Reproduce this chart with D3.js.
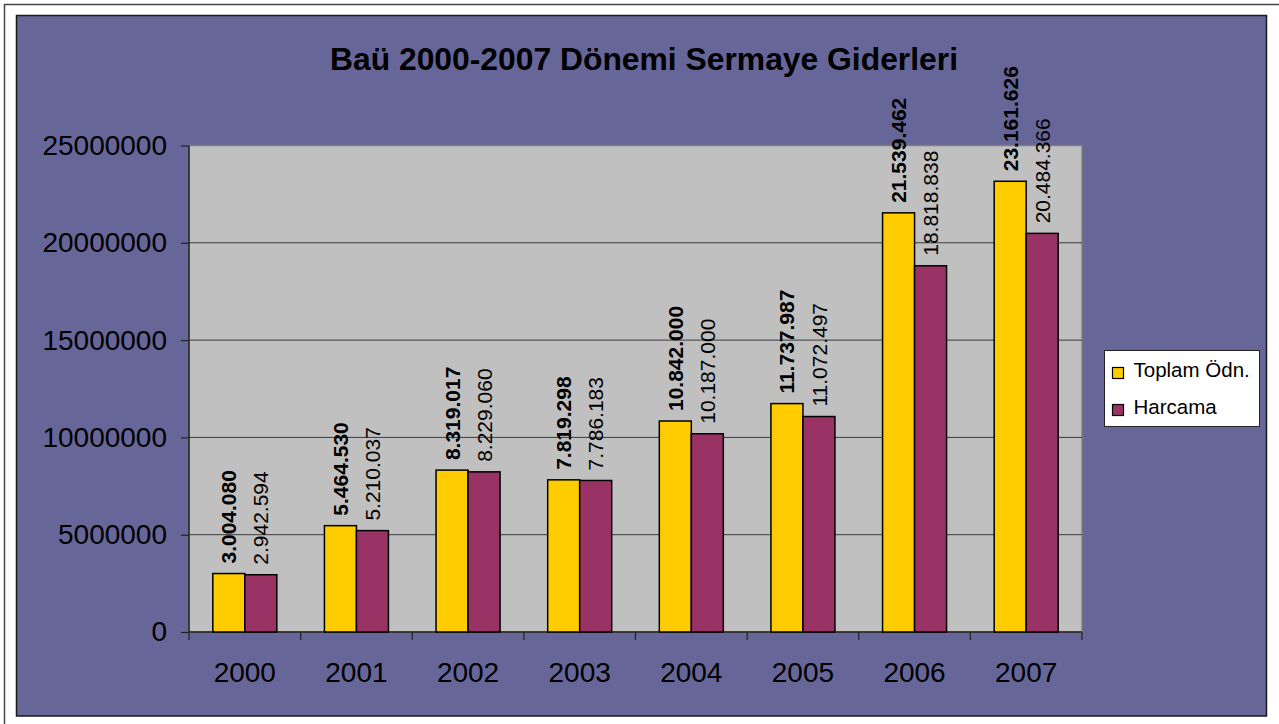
<!DOCTYPE html>
<html>
<head>
<meta charset="utf-8">
<script src="https://cdn.jsdelivr.net/npm/d3@7"></script>
<style>
  body { margin: 0; background: #fff; }
  text { font-family: "Liberation Sans", Arial, sans-serif; }
</style>
</head>
<body>
<div id="chart"></div>
<script>
	var categories = ["2000", "2001", "2002", "2003", "2004", "2005", "2006", "2007"];
	var seriesNames = ["Toplam Ödn.", "Harcama"];
	var toplam = [3004080, 5464530, 8319017, 7819298, 10842000, 11737987, 21539462, 23161626];
	var harcama = [2942594, 5210037, 8229060, 7786183, 10187000, 11072497, 18818838, 20484366];
	var yTicks = [0, 5000000, 10000000, 15000000, 20000000, 25000000];
	var colors = ["#FFCC00", "#993366"];

	var width = 1279, height = 724;
	var plot = { left: 189, top: 145.5, right: 1082, bottom: 632 };

	var svg = d3.select("#chart").append("svg")
		.attr("width", width).attr("height", height);

	// outer frame (only top and left are visible)
	svg.append("rect")
		.attr("x", 4.5).attr("y", 4.5)
		.attr("width", width + 20).attr("height", height + 20)
		.attr("fill", "#fff").attr("stroke", "#444").attr("stroke-width", 1.5);

	// purple chart area
	svg.append("rect")
		.attr("x", 16.5).attr("y", 15.5)
		.attr("width", 1250).attr("height", 700.5)
		.attr("fill", "#666699").attr("stroke", "#1a1a1a").attr("stroke-width", 1.5);

	var x = d3.scaleBand().domain(categories).range([plot.left, plot.right]);
	var x1 = d3.scaleBand().domain(seriesNames).range([0, x.bandwidth()])
		.paddingInner(0).paddingOuter(0.744);
	var y = d3.scaleLinear().domain([0, 25000000]).range([plot.bottom, plot.top]);

	// plot area
	svg.append("rect")
		.attr("x", plot.left).attr("y", plot.top)
		.attr("width", plot.right - plot.left).attr("height", plot.bottom - plot.top)
		.attr("fill", "#C0C0C0").attr("stroke", "#808080").attr("stroke-width", 1.5);

	// gridlines
	svg.append("g").selectAll("line").data(yTicks.filter(d => d > 0 && d < 25000000))
		.join("line")
		.attr("x1", plot.left).attr("x2", plot.right)
		.attr("y1", d => y(d)).attr("y2", d => y(d))
		.attr("stroke", "#3a3a3a").attr("stroke-width", 1);

	// y axis
	var yAxis = svg.append("g")
		.attr("transform", `translate(${plot.left},0)`)
		.call(d3.axisLeft(y).tickValues(yTicks).tickFormat(d3.format("d")).tickSize(8).tickPadding(14));
	yAxis.select(".domain").attr("stroke", "#222").attr("stroke-width", 1.5).attr("d", `M0,${plot.top}V${plot.bottom}`);
	yAxis.selectAll(".tick line").attr("stroke", "#222").attr("stroke-width", 1.2);
	yAxis.selectAll(".tick text")
		.attr("font-size", 28).attr("fill", "#000")
		.style("font-family", "'Liberation Sans', Arial, sans-serif");

	// x axis
	var xAxis = svg.append("g").attr("transform", `translate(0,${plot.bottom})`);
	xAxis.append("line")
		.attr("x1", plot.left).attr("x2", plot.right)
		.attr("stroke", "#222").attr("stroke-width", 1.5);
	xAxis.selectAll(".tk").data(d3.range(categories.length + 1))
		.join("line").attr("class", "tk")
		.attr("x1", i => plot.left + i * x.step()).attr("x2", i => plot.left + i * x.step())
		.attr("y1", 0).attr("y2", 8)
		.attr("stroke", "#222").attr("stroke-width", 1.2);
	xAxis.selectAll(".lbl").data(categories)
		.join("text").attr("class", "lbl")
		.attr("x", d => x(d) + x.bandwidth() / 2)
		.attr("y", 50)
		.attr("text-anchor", "middle")
		.attr("font-size", 28)
		.text(d => d);

	// bars
	var rows = categories.map((c, i) => ({ cat: c, vals: [toplam[i], harcama[i]] }));
	var fmt = d3.formatLocale({ decimal: ",", thousands: ".", grouping: [3], currency: ["", ""] }).format(",d");

	var groups = svg.append("g").selectAll("g").data(rows).join("g")
		.attr("transform", d => `translate(${x(d.cat)},0)`);

	groups.selectAll("rect")
		.data(d => d.vals.map((v, k) => ({ name: seriesNames[k], v: v, k: k })))
		.join("rect")
		.attr("x", d => x1(d.name))
		.attr("y", d => y(d.v))
		.attr("width", x1.bandwidth())
		.attr("height", d => y(0) - y(d.v))
		.attr("fill", d => colors[d.k])
		.attr("stroke", "#000").attr("stroke-width", 1.5);

	groups.selectAll("text")
		.data(d => d.vals.map((v, k) => ({ name: seriesNames[k], v: v, k: k })))
		.join("text")
		.attr("transform", d => `translate(${x1(d.name) + x1.bandwidth() / 2},${y(d.v) - 10}) rotate(-90)`)
		.attr("dy", "0.36em")
		.attr("font-size", 21)
		.attr("font-weight", d => d.k === 0 ? "bold" : "normal")
		.text(d => fmt(d.v));

	// title
	svg.append("text")
		.attr("x", 644).attr("y", 69.5)
		.attr("text-anchor", "middle")
		.attr("font-size", 30.5).attr("font-weight", "bold")
		.attr("textLength", 628).attr("lengthAdjust", "spacingAndGlyphs")
		.text("Baü 2000-2007 Dönemi Sermaye Giderleri");

	// legend
	var legend = svg.append("g");
	legend.append("rect")
		.attr("x", 1104.5).attr("y", 350.5).attr("width", 155).attr("height", 76)
		.attr("fill", "#fff").attr("stroke", "#222").attr("stroke-width", 1);
	var li = legend.selectAll("g").data(seriesNames).join("g")
		.attr("transform", (d, i) => `translate(1112.5,${367.5 + i * 37})`);
	li.append("rect")
		.attr("width", 11).attr("height", 11)
		.attr("fill", (d, i) => colors[i]).attr("stroke", "#000").attr("stroke-width", 1.2);
	li.append("text")
		.attr("x", 21).attr("y", 9)
		.attr("font-size", 20.5)
		.text(d => d);
</script>
</body>
</html>
